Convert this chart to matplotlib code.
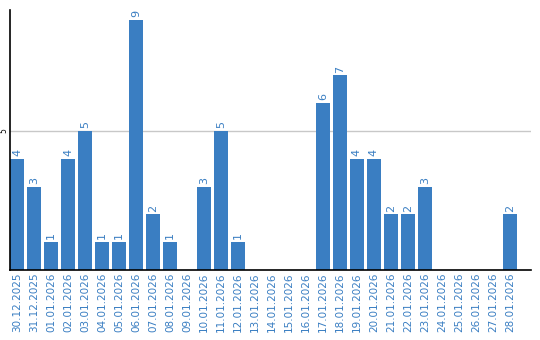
import matplotlib
matplotlib.use("Agg")
import matplotlib.pyplot as plt

dates = ["30.12.2025", "31.12.2025", "01.01.2026", "02.01.2026", "03.01.2026",
         "04.01.2026", "05.01.2026", "06.01.2026", "07.01.2026", "08.01.2026",
         "09.01.2026", "10.01.2026", "11.01.2026", "12.01.2026", "13.01.2026",
         "14.01.2026", "15.01.2026", "16.01.2026", "17.01.2026", "18.01.2026",
         "19.01.2026", "20.01.2026", "21.01.2026", "22.01.2026", "23.01.2026",
         "24.01.2026", "25.01.2026", "26.01.2026", "27.01.2026", "28.01.2026"]
values = [4, 3, 1, 4, 5, 1, 1, 9, 2, 1, 0, 3, 5, 1, 0, 0, 0, 0, 6, 7,
          4, 4, 2, 2, 3, 0, 0, 0, 0, 2]
yticks = [5]

color = "#3a7ec2"
fig = plt.figure(figsize=(5.4, 3.4), dpi=100)
ax = fig.add_axes([10/540, 70/340, 521/540, 260/340])
x = list(range(len(values)))
ax.bar(x, values, width=0.82, color=color, zorder=2)
for xi, v in zip(x, values):
    if v > 0:
        ax.text(xi, v + 0.1, str(v), rotation=90, ha="center", va="bottom",
                color=color, fontsize=8)
ax.set_xlim(-0.41, 30.24)
ax.set_ylim(0, 9.35)
ax.set_xticks(x)
ax.set_xticklabels(dates, rotation=90, color=color, fontsize=7.5)
ax.tick_params(axis="x", length=0, pad=2)
ax.set_yticks(yticks)
ax.set_yticklabels([str(t) for t in yticks], rotation=90, fontsize=5.5, va="center")
ax.tick_params(axis="y", length=0, pad=1)
ax.grid(axis="y", color="#c8c8c8", linewidth=1, zorder=1)
for s in ["top", "right"]:
    ax.spines[s].set_visible(False)
ax.spines["left"].set_linewidth(1.2)
ax.spines["bottom"].set_linewidth(1.2)
fig.savefig("out.png", dpi=100)
